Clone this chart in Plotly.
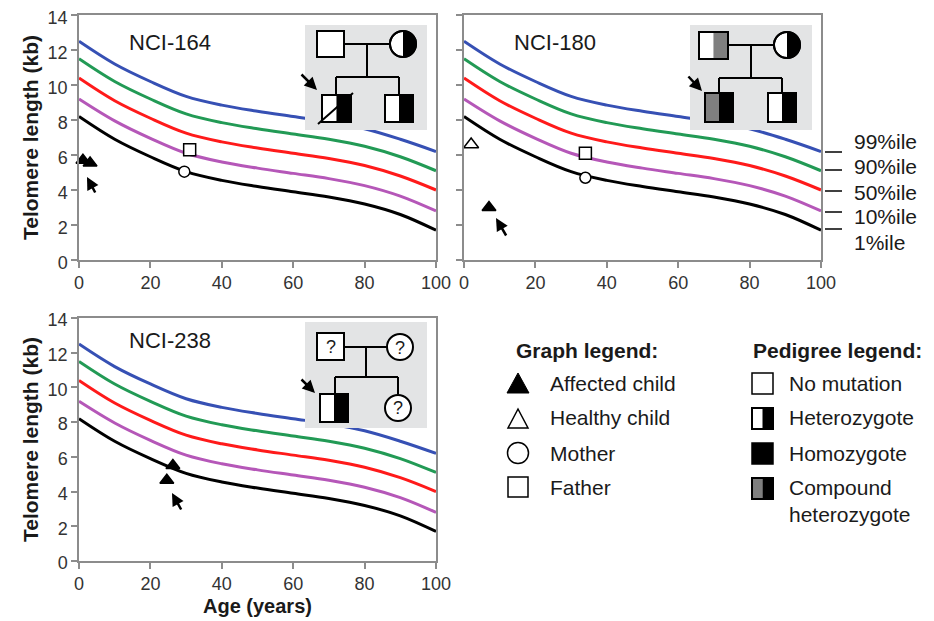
import numpy as np
import plotly.graph_objects as go

# ---------------- data ----------------
ages = [0, 10, 20, 30, 40, 50, 60, 70, 80, 90, 100]
p99 = [12.5, 11.2, 10.2, 9.35, 8.85, 8.5, 8.2, 7.9, 7.5, 6.9, 6.2]
p90 = [11.5, 10.2, 9.2, 8.35, 7.85, 7.5, 7.2, 6.9, 6.5, 5.9, 5.1]
p50 = [10.4, 9.1, 8.1, 7.25, 6.75, 6.4, 6.1, 5.8, 5.4, 4.8, 4.0]
p10 = [9.2, 7.95, 6.95, 6.1, 5.6, 5.25, 4.95, 4.65, 4.25, 3.65, 2.8]
p01 = [8.2, 6.9, 5.9, 5.05, 4.55, 4.2, 3.9, 3.6, 3.2, 2.6, 1.7]
percentile_labels = ["99%ile", "90%ile", "50%ile", "10%ile", "1%ile"]

# NCI-164
nci164_affected_age = [1.1, 3.1]
nci164_affected_tl = [5.7, 5.55]
nci164_father = ([31], [6.3])
nci164_mother = ([29.5], [5.05])
# NCI-180
nci180_affected = ([7], [3.0])
nci180_healthy = ([2], [6.6])
nci180_father = ([34], [6.1])
nci180_mother = ([34], [4.7])
# NCI-238
nci238_affected_age = [26.3, 24.6]
nci238_affected_tl = [5.5, 4.65]

panel_titles = ["NCI-164", "NCI-180", "NCI-238"]
graph_legend = ["Affected child", "Healthy child", "Mother", "Father"]
pedigree_legend = ["No mutation", "Heterozygote", "Homozygote", "Compound", "heterozygote"]

# ---------------- layout helpers ----------------
OX, OY = 8, 8          # page body margin offset
W, H = 934 - OX, 621 - OY
FONT = "Arial, Liberation Sans, sans-serif"


def px(x):
    return (x - OX) / W


def py(y):
    return 1 - (y - OY) / H


colors = ["#3650b4", "#229a55", "#ff1a1a", "#b557b8", "#000000"]
curves = [p99, p90, p50, p10, p01]

fig = go.Figure()

axes_pairs = [("x", "y"), ("x2", "y2"), ("x3", "y3")]
for xa, ya in axes_pairs:
    for c, col in zip(curves, colors):
        fig.add_trace(go.Scatter(x=ages, y=c, mode="lines", line=dict(color=col, width=3, shape="spline"),
                                 xaxis=xa, yaxis=ya, showlegend=False, hoverinfo="skip"))


def add_pts(xs, ys, xa, ya, symbol, size, fill):
    fig.add_trace(go.Scatter(x=xs, y=ys, mode="markers", xaxis=xa, yaxis=ya, showlegend=False,
                             cliponaxis=False,
                             marker=dict(symbol=symbol, size=size, color=fill,
                                         line=dict(color="black", width=1.5))))


add_pts(nci164_affected_age, nci164_affected_tl, "x", "y", "triangle-up", 12, "black")
add_pts(*nci164_father, "x", "y", "square", 12, "white")
add_pts(*nci164_mother, "x", "y", "circle", 11, "white")
add_pts(*nci180_affected, "x2", "y2", "triangle-up", 12, "black")
add_pts(*nci180_healthy, "x2", "y2", "triangle-up", 13, "white")
add_pts(*nci180_father, "x2", "y2", "square", 12, "white")
add_pts(*nci180_mother, "x2", "y2", "circle", 11, "white")
add_pts(nci238_affected_age, nci238_affected_tl, "x3", "y3", "triangle-up", 12, "black")

axcommon = dict(showline=True, linecolor="#8c8c8c", linewidth=1.5, mirror=True, ticks="outside",
                ticklen=6, tickcolor="#8c8c8c", tickwidth=1.5, showgrid=False, zeroline=False,
                automargin=False, ticklabeloverflow="allow",
                tickfont=dict(family=FONT, size=18, color="#333333"))

xd1 = [px(79), px(436)]
xd2 = [px(464), px(821)]
yd1 = [py(260), py(15)]
yd3 = [py(561), py(318)]

fig.update_layout(
    width=W, height=H, margin=dict(l=0, r=0, t=0, b=0, pad=0), autosize=False,
    plot_bgcolor="white", paper_bgcolor="white", showlegend=False,
    xaxis=dict(domain=xd1, range=[0, 100], dtick=20, anchor="y", **axcommon),
    yaxis=dict(domain=yd1, range=[0, 14], dtick=2, anchor="x", ticklabelshift=3, **axcommon),
    xaxis2=dict(domain=xd2, range=[0, 100], dtick=20, anchor="y2", **axcommon),
    yaxis2=dict(domain=yd1, range=[0, 14], dtick=2, anchor="x2", showticklabels=False, **axcommon),
    xaxis3=dict(domain=xd1, range=[0, 100], dtick=20, anchor="y3", **axcommon),
    yaxis3=dict(domain=yd3, range=[0, 14], dtick=2, anchor="x3", ticklabelshift=2, **axcommon),
)

shapes = []
annotations = []


def rect(x0, y0, x1, y1, fill="white", line="black", lw=2):
    shapes.append(dict(type="rect", xref="paper", yref="paper", x0=px(x0), x1=px(x1), y0=py(y1), y1=py(y0),
                       fillcolor=fill, line=dict(color=line, width=lw) if lw else dict(width=0)))


def line(x0, y0, x1, y1, lw=2, col="black"):
    shapes.append(dict(type="line", xref="paper", yref="paper", x0=px(x0), x1=px(x1), y0=py(y0), y1=py(y1),
                       line=dict(color=col, width=lw)))


def poly(pts, fill, col="black", lw=2):
    d = "M " + " L ".join(f"{px(a):.5f},{py(b):.5f}" for a, b in pts) + " Z"
    shapes.append(dict(type="path", xref="paper", yref="paper", path=d, fillcolor=fill,
                       line=dict(color=col, width=lw) if lw else dict(width=0)))


def circle(cx, cy, r, fill="white", lw=2):
    shapes.append(dict(type="circle", xref="paper", yref="paper", x0=px(cx - r), x1=px(cx + r),
                       y0=py(cy + r), y1=py(cy - r), fillcolor=fill, line=dict(color="black", width=lw)))


def half_circle(cx, cy, r):
    circle(cx, cy, r)
    t = np.linspace(-np.pi / 2, np.pi / 2, 40)
    pts = [(cx + r * np.cos(a), cy + r * np.sin(a)) for a in t]
    poly(pts, "black", lw=0)
    circle(cx, cy, r, fill="rgba(0,0,0,0)")


def split_square(x0, y0, x1, y1, left, right):
    xm = (x0 + x1) / 2
    rect(x0, y0, xm, y1, fill=left, lw=0)
    rect(xm, y0, x1, y1, fill=right, lw=0)
    rect(x0, y0, x1, y1, fill="rgba(0,0,0,0)")


def text(x, y, s, size=21, bold=False, anchor="left", angle=0, color="#1a1a1a"):
    annotations.append(dict(x=px(x), y=py(y), xref="paper", yref="paper", text=f"<b>{s}</b>" if bold else s,
                            showarrow=False, xanchor=anchor, yanchor="middle", textangle=angle,
                            font=dict(family=FONT, size=size, color=color)))


def arrow(hx, hy, tx, ty):
    annotations.append(dict(x=px(hx), y=py(hy), xref="paper", yref="paper", text="", showarrow=True,
                            ax=tx - hx, ay=ty - hy, arrowhead=2, arrowsize=1, arrowwidth=2.5,
                            arrowcolor="black", standoff=0))


GREY_BG = "#e3e4e5"
MID_GREY = "#7f7f7f"

# ---- Pedigree NCI-164 ----
rect(305, 25, 427, 130, fill=GREY_BG, lw=0)
line(344, 44, 390, 44)
line(367, 44, 367, 77)
line(336, 77, 399, 77)
line(336, 77, 336, 95)
line(399, 77, 399, 95)
rect(317, 31, 344, 57)
half_circle(403, 44, 13)
split_square(322, 95, 351, 122, "white", "black")
split_square(385, 95, 413, 122, "white", "black")
line(318, 124, 353, 93)
arrow(317, 90, 300, 73)

# ---- Pedigree NCI-180 ----
rect(690, 25, 812, 130, fill=GREY_BG, lw=0)
split_square(699, 32, 728, 59, "white", MID_GREY)
line(728, 45, 774, 45)
line(751, 45, 751, 78)
line(719, 78, 782, 78)
line(719, 78, 719, 93)
line(782, 78, 782, 93)
half_circle(787, 45, 13)
split_square(705, 93, 733, 122, MID_GREY, "black")
split_square(768, 93, 796, 122, "white", "black")
arrow(702, 91, 687, 75)

# ---- Pedigree NCI-238 ----
rect(305, 322, 427, 428, fill=GREY_BG, lw=0)
line(344, 347, 387, 347)
line(366, 347, 366, 377)
line(335, 377, 398, 377)
line(335, 377, 335, 394)
line(398, 377, 398, 394)
rect(317, 333, 344, 360)
circle(400, 347, 13)
split_square(320, 394, 348, 422, "white", "black")
circle(398, 408, 13)
text(330.5, 346.5, "?", size=18, anchor="center")
text(400, 347.5, "?", size=18, anchor="center")
text(398, 408.5, "?", size=18, anchor="center")
arrow(315, 393, 300, 378)

# ---- arrows pointing at affected children ----
arrow(87, 177, 96, 194)
arrow(496, 218, 507, 237)
arrow(172, 493, 182, 511)

# ---- panel titles ----
text(127, 42, panel_titles[0], size=22)
text(512, 42, panel_titles[1], size=22)
text(127, 340, panel_titles[2], size=22)

# ---- axis titles ----
text(30, 138, "Telomere length (kb)", size=21, bold=True, anchor="center", angle=-90)
text(30, 440, "Telomere length (kb)", size=21, bold=True, anchor="center", angle=-90)
text(258, 606, "Age (years)", size=20, bold=True, anchor="center")

# ---- percentile labels ----
pl_text_y = [142, 167, 192, 217, 243]
pl_tick_y = [152, 170, 191, 212, 229]
for lab, ty, ky in zip(percentile_labels, pl_text_y, pl_tick_y):
    line(825, ky, 842, ky, lw=1.5)
    text(852, ty, lab, size=21)

# ---- graph legend ----
text(514, 350, "Graph legend:", size=21, bold=True)
gy = [383, 418, 453, 487]
poly([(507, 393), (529, 393), (518, 373)], "black", lw=1)
poly([(508, 428), (528, 428), (518, 409)], "white", lw=1.5)
circle(518, 453, 10.5, lw=1.5)
rect(508, 477, 528, 497, lw=1.5)
for lab, yy in zip(graph_legend, gy):
    text(548, yy, lab, size=21)

# ---- pedigree legend ----
text(751, 350, "Pedigree legend:", size=21, bold=True)
rect(752, 373, 773, 394, lw=1.5)
split_square(752, 408, 773, 429, "white", "black")
rect(752, 443, 773, 464, fill="black", lw=1.5)
split_square(752, 478, 773, 499, MID_GREY, "black")
ped_y = [383, 418, 453, 487, 514]
for lab, yy in zip(pedigree_legend, ped_y):
    text(787, yy, lab, size=21)

fig.update_layout(shapes=shapes, annotations=annotations)
fig.write_html("out.html")
